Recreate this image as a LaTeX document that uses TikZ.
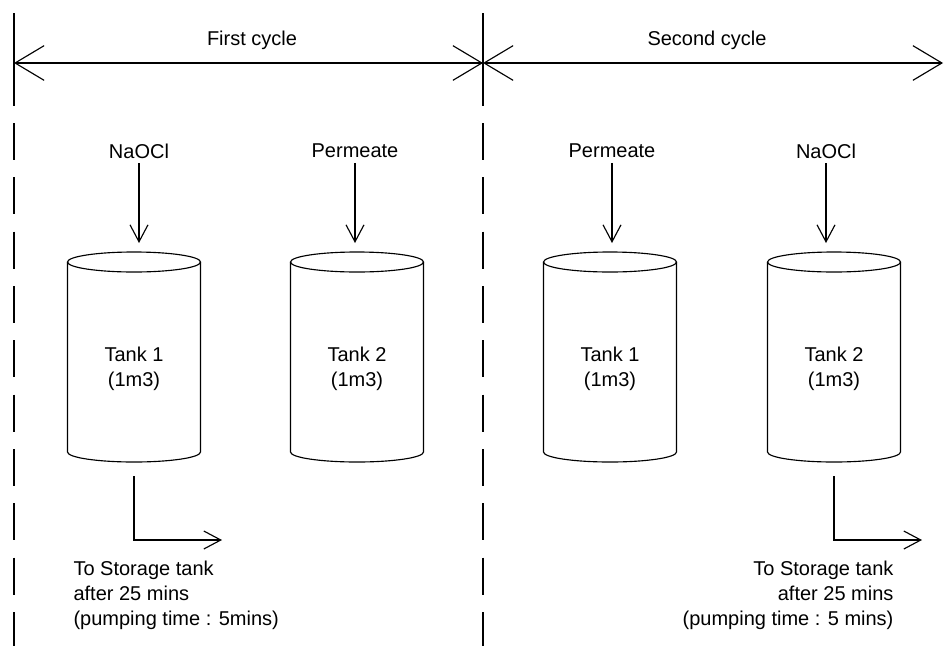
\documentclass[tikz,border=0pt]{standalone}
\usepackage{fontspec}
\setmainfont{Liberation Sans}
\usetikzlibrary{arrows.meta}

\tikzset{
	pics/tanc/.style={code={
		\draw (0,-95) ellipse [x radius=66.5, y radius=10];
		\draw (-66.5,-95) -- (-66.5,95) arc[start angle=180, end angle=0, x radius=66.5, y radius=10] -- (66.5,-95);
		\coordinate (-top) at (0,-105);
		\coordinate (-bottom) at (0,105);
		\node[align=center, inner sep=0pt] (-nom) at (0,12) {#1};
	}},
	fletxa/.style={-{Straight Barb[length=12.75pt,width=13.5pt]}},
	cicle/.style={{Straight Barb[length=21.75pt,width=26pt]}-{Straight Barb[length=21.75pt,width=26pt]}},
	divisio/.style={dash pattern=on 27.75pt off 13pt},
	nota/.style={inner sep=0pt}
}

\begin{document}
\begin{tikzpicture}[x=0.75pt, y=-0.75pt, line width=0.85pt, font=\fontsize{15}{18.75}\selectfont]
				\useasboundingbox (0,0) rectangle (944,646);
				%Linies de separacio
				\coordinate (s1a) at (14,13);
				\coordinate (s1b) at (14,106);
				\coordinate (s1c) at (14,123);
				\coordinate (s1d) at (14,646);
				\coordinate (s2a) at (483,13);
				\coordinate (s2b) at (483,106);
				\coordinate (s2c) at (483,123);
				\coordinate (s2d) at (483,646);
				\draw (s1a) -- (s1b);
				\draw[divisio] (s1c) -- (s1d);
				\draw (s2a) -- (s2b);
				\draw[divisio] (s2c) -- (s2d);
				%Cicles
				\coordinate (c0) at (14,63);
				\coordinate (c1) at (483,63);
				\coordinate (c2) at (943,63);
				\draw[cicle] (c0) -- (c1);
				\draw[cicle] (c1) -- (c2);
				\node[anchor=base] (cicle1) at (252,45) {First cycle};
				\node[anchor=base] (cicle2) at (707,45) {Second cycle};
				%Primer cicle
				\pic (t1a) at (134,357) {tanc={Tank 1\\(1m3)}};
				\pic (t2a) at (357,357) {tanc={Tank 2\\(1m3)}};
				\node (in1a) at (139,151) {NaOCl};
				\node (in2a) at (355,151) {Permeate};
				\draw[fletxa, shorten >=6.75pt] (in1a) -- (in1a |- t1a-top);
				\draw[fletxa, shorten >=6.75pt] (in2a) -- (in2a |- t2a-top);
				\coordinate (sort1) at (222,540);
				\draw[fletxa, shorten <=10.5pt] (t1a-bottom) |- (sort1);
				\node[nota, anchor=west, align=left] (dest1) at (73,595) {To Storage tank\\after 25 mins\\(pumping time : 5mins)};
				%Segon cicle
				\pic (t1b) at (610,357) {tanc={Tank 1\\(1m3)}};
				\pic (t2b) at (834,357) {tanc={Tank 2\\(1m3)}};
				\node (in1b) at (612,151) {Permeate};
				\node (in2b) at (826,151) {NaOCl};
				\draw[fletxa, shorten >=6.75pt] (in1b) -- (in1b |- t1b-top);
				\draw[fletxa, shorten >=6.75pt] (in2b) -- (in2b |- t2b-top);
				\coordinate (sort2) at (922,540);
				\draw[fletxa, shorten <=10.5pt] (t2b-bottom) |- (sort2);
				\node[nota, anchor=east, align=right] (dest2) at (894,595) {To Storage tank\\after 25 mins\\(pumping time : 5 mins)};
			\end{tikzpicture}
\end{document}
